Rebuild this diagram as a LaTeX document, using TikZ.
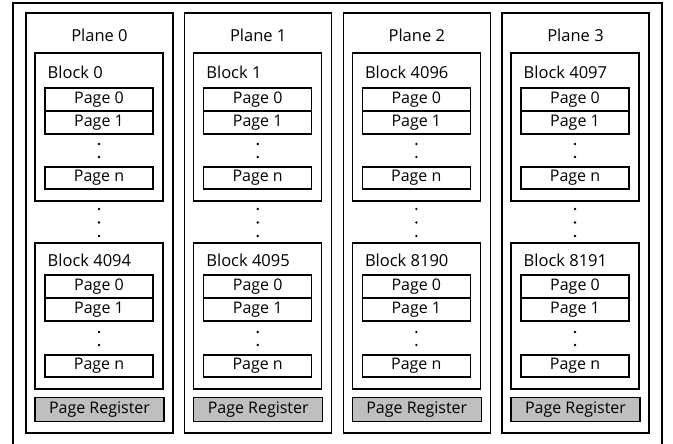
\documentclass[tikz,border=0pt]{standalone}
\usepackage{fontspec}
\setmainfont{Open Sans}
\begin{document}
\begin{tikzpicture}[x=1pt,y=-1pt,
  box/.style={draw=black,line width=1.5pt,rectangle,inner sep=0pt},
  pagebox/.style={box,fill=white,minimum width=108pt,font=\fontsize{16}{18}\selectfont},
  regbox/.style={box,fill=black!25,minimum width=129pt,minimum height=24pt,font=\fontsize{16}{18}\selectfont},
  lbl/.style={inner sep=0pt,font=\fontsize{16.5}{19}\selectfont},
  dotmark/.style={circle,fill=black,inner sep=0pt,minimum size=2.6pt}]
\useasboundingbox (0,0) rectangle (673,444);
\node[draw=black,line width=2pt,rectangle,inner sep=0pt,minimum width=649pt,minimum height=450pt] (outer) at (337.5,228) {};
\foreach \i/\L/\A/\B in {0/26/0/4094, 1/184.7/1/4095, 2/343.3/4096/8190, 3/502/4097/8191}{
  \node[box,minimum width=147pt,minimum height=420pt] (plane\i) at (\L+73.5,223) {};
  \node[lbl] (ptitle\i) at (\L+73.5,35) {Plane \i};
  % upper block
  \node[box,minimum width=128pt,minimum height=148pt] (blkA\i) at (\L+73,127) {};
  \node[lbl,anchor=west] (blkAt\i) at (\L+21.5,72) {Block \A};
  \node[pagebox,minimum height=23pt] (pA0\i) at (\L+73,99.5) {Page 0};
  \node[pagebox,minimum height=23pt] (pA1\i) at (\L+73,122.5) {Page 1};
  \node[dotmark] (dA1\i) at (\L+73,144) {};
  \node[dotmark] (dA2\i) at (\L+73,157) {};
  \node[pagebox,minimum height=22pt] (pAn\i) at (\L+73,178) {Page n};
  % between blocks
  \node[dotmark] (dm1\i) at (\L+73,209) {};
  \node[dotmark] (dm2\i) at (\L+73,222.5) {};
  \node[dotmark] (dm3\i) at (\L+73,236) {};
  % lower block
  \node[box,minimum width=128pt,minimum height=146pt] (blkB\i) at (\L+73,316) {};
  \node[lbl,anchor=west] (blkBt\i) at (\L+21.5,260) {Block \B};
  \node[pagebox,minimum height=23pt] (pB0\i) at (\L+73,286.5) {Page 0};
  \node[pagebox,minimum height=23pt] (pB1\i) at (\L+73,309.5) {Page 1};
  \node[dotmark] (dB1\i) at (\L+73,332) {};
  \node[dotmark] (dB2\i) at (\L+73,345) {};
  \node[pagebox,minimum height=22pt] (pBn\i) at (\L+73,366) {Page n};
  % register
  \node[regbox] (reg\i) at (\L+73.5,409.5) {Page Register};
}
\end{tikzpicture}
\end{document}
